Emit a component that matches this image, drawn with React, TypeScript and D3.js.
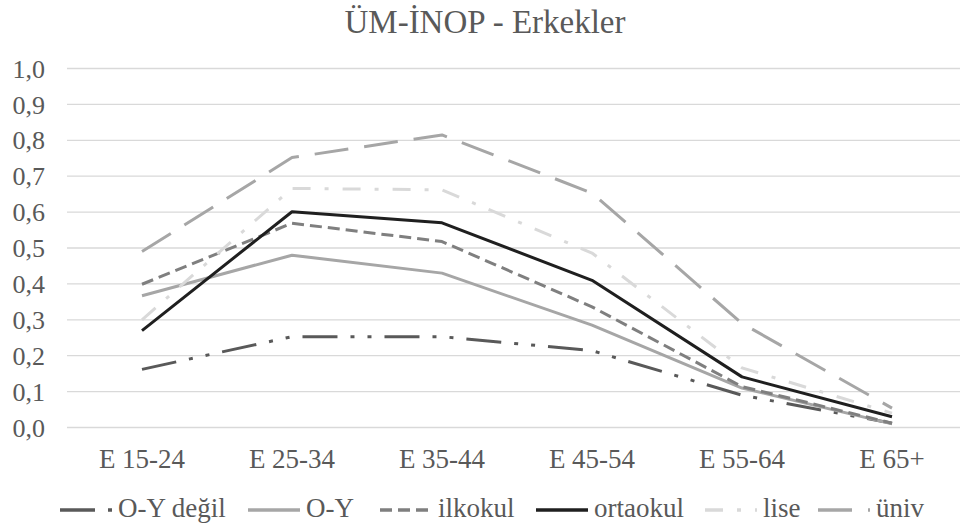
import React from "react";
import * as d3 from "d3";

const categories = ["E 15-24", "E 25-34", "E 35-44", "E 45-54", "E 55-64", "E 65+"];
const yTicks = [0, 0.1, 0.2, 0.3, 0.4, 0.5, 0.6, 0.7, 0.8, 0.9, 1.0];
const title = "ÜM-İNOP - Erkekler";

const oyDegil = [0.162, 0.253, 0.253, 0.214, 0.09, 0.012];
const oy = [0.367, 0.48, 0.43, 0.285, 0.11, 0.01];
const ilkokul = [0.399, 0.569, 0.518, 0.336, 0.114, 0.012];
const ortaokul = [0.27, 0.601, 0.57, 0.41, 0.141, 0.03];
const lise = [0.3, 0.666, 0.662, 0.486, 0.166, 0.04];
const univ = [0.49, 0.752, 0.815, 0.653, 0.29, 0.054];

const seriesNames = ["O-Y değil", "O-Y", "ilkokul", "ortaokul", "lise", "üniv"];
const seriesValues = [oyDegil, oy, ilkokul, ortaokul, lise, univ];

const styles = [
  { color: "#595959", dash: "35,13,4,13,4,13", width: 3 },
  { color: "#a6a6a6", dash: "", width: 3 },
  { color: "#7f7f7f", dash: "12,6", width: 3 },
  { color: "#1f1f1f", dash: "", width: 3 },
  { color: "#d9d9d9", dash: "18,14,4,14", width: 3 },
  { color: "#a6a6a6", dash: "34,16", width: 3 },
];

const LEGEND_X = [60, 248, 380, 536, 705, 818];
const FONT = "'Liberation Serif', Tinos, 'Times New Roman', Times, 'Nimbus Roman', 'Noto Serif', 'DejaVu Serif'";
const TEXT = "#595959";
const txt = { fontFamily: FONT };

export default function App() {
  const W = 960, H = 529;
  const left = 67, right = 967, top = 68.5, bottom = 427.5;
  const x = d3.scaleBand<string>().domain(categories).range([left, right]).padding(0);
  const y = d3.scaleLinear().domain([0, 1]).range([bottom, top]);
  const cx = (c: string) => (x(c) as number) + x.bandwidth() / 2;
  const line = d3
    .line<number>()
    .x((_, i) => cx(categories[i]))
    .y((d) => y(d));

  return (
    <svg
      width={W}
      height={H}
      style={{ position: "absolute", left: 0, top: 0, background: "#fff" }}
    >
      <rect width={W} height={H} fill="#fff" />
      <text x={485} y={33} textAnchor="middle" fontSize={33} fill={TEXT} style={txt}>
        {title}
      </text>
      {yTicks.map((t) => (
        <g key={t}>
          <line x1={left} x2={right} y1={y(t)} y2={y(t)} stroke="#d9d9d9" strokeWidth={1.3} />
          <text
            x={45}
            y={y(t)}
            dy="0.35em"
            textAnchor="end"
            fontSize={26}
            fill={TEXT}
            style={txt}
          >
            {d3.format(".1f")(t).replace(".", ",")}
          </text>
        </g>
      ))}
      {categories.map((c) => (
        <text key={c} x={cx(c)} y={468} textAnchor="middle" fontSize={27} fill={TEXT} style={txt}>
          {c}
        </text>
      ))}
      {seriesValues.map((vals, i) => (
        <path
          key={seriesNames[i]}
          d={line(vals) || ""}
          fill="none"
          stroke={styles[i].color}
          strokeWidth={styles[i].width}
          strokeDasharray={styles[i].dash || undefined}
          strokeLinejoin="round"
        />
      ))}
      {seriesNames.map((n, i) => (
        <g key={n} transform={`translate(${LEGEND_X[i]},0)`}>
          <line
            x1={0}
            x2={52}
            y1={510}
            y2={510}
            stroke={styles[i].color}
            strokeWidth={styles[i].width + 0.5}
            strokeDasharray={styles[i].dash || undefined}
          />
          <text x={58} y={517} fontSize={27} fill={TEXT} style={txt}>
            {n}
          </text>
        </g>
      ))}
    </svg>
  );
}
